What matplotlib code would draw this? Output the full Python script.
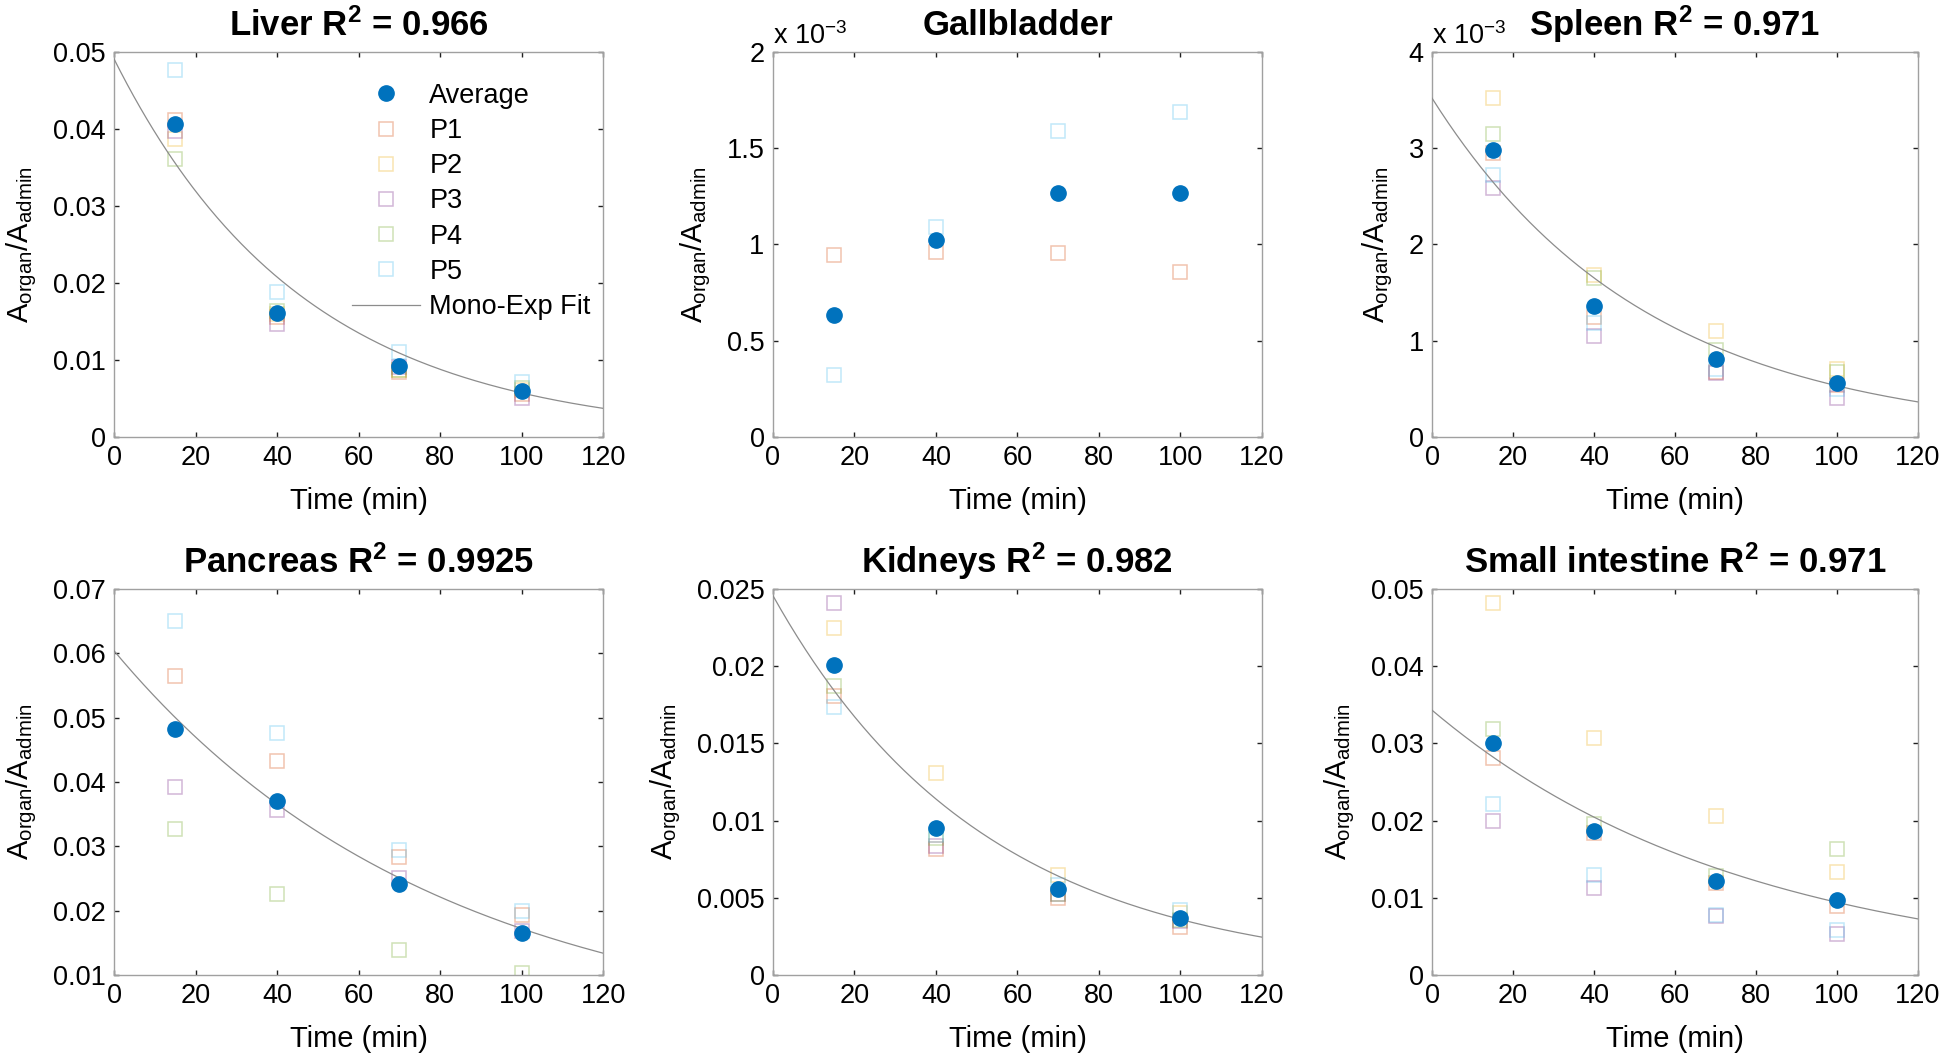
import numpy as np
import matplotlib
matplotlib.use("Agg")
import matplotlib.pyplot as plt
from matplotlib.ticker import MultipleLocator, FuncFormatter

plt.rcParams['font.family'] = ['Liberation Sans', 'DejaVu Sans']
plt.rcParams['mathtext.fontset'] = 'custom'
plt.rcParams['mathtext.rm'] = 'Liberation Sans'
plt.rcParams['mathtext.it'] = 'Liberation Sans:italic'
plt.rcParams['mathtext.bf'] = 'Liberation Sans:bold'
plt.rcParams['mathtext.default'] = 'regular'

# ---------------- data ----------------
time_min = [15, 40, 70, 100]
nan = np.nan

organ_names = ["Liver", "Gallbladder", "Spleen", "Pancreas", "Kidneys", "Small intestine"]
r_squared = ["0.966", None, "0.971", "0.9925", "0.982", "0.971"]
patient_labels = ["P1", "P2", "P3", "P4", "P5"]

liver_avg = [0.0407, 0.0161, 0.0092, 0.0060]
liver_patients = [
    [0.0412, 0.0156, 0.0084, 0.0056],
    [0.0387, 0.0160, 0.0087, 0.0061],
    [0.0398, 0.0147, 0.0091, 0.0050],
    [0.0361, 0.0164, 0.0087, 0.0063],
    [0.0477, 0.0188, 0.0110, 0.0071],
]

gallbladder_avg = [0.636e-3, 1.022e-3, 1.269e-3, 1.269e-3]
gallbladder_patients = [
    [0.947e-3, 0.961e-3, 0.956e-3, 0.857e-3],
    [nan, nan, nan, nan],
    [nan, nan, nan, nan],
    [nan, nan, nan, nan],
    [0.320e-3, 1.091e-3, 1.590e-3, 1.687e-3],
]

spleen_avg = [2.986e-3, 1.361e-3, 0.809e-3, 0.566e-3]
spleen_patients = [
    [2.95e-3, 1.25e-3, 0.68e-3, 0.54e-3],
    [3.52e-3, 1.68e-3, 1.10e-3, 0.71e-3],
    [2.59e-3, 1.05e-3, 0.66e-3, 0.40e-3],
    [3.15e-3, 1.65e-3, 0.90e-3, 0.68e-3],
    [2.72e-3, 1.18e-3, 0.71e-3, 0.50e-3],
]

pancreas_avg = [0.0482, 0.0371, 0.0241, 0.0165]
pancreas_patients = [
    [0.0565, 0.0432, 0.0284, 0.0194],
    [nan, nan, nan, nan],
    [0.0392, 0.0357, 0.0251, 0.0169],
    [0.0327, 0.0226, 0.0139, 0.0103],
    [0.0650, 0.0476, 0.0295, 0.0199],
]

kidneys_avg = [0.0201, 0.00952, 0.00556, 0.00368]
kidneys_patients = [
    [0.01807, 0.00816, 0.00498, 0.00314],
    [0.02245, 0.01310, 0.00649, 0.00400],
    [0.02409, 0.00833, 0.00525, 0.00350],
    [0.01872, 0.00890, 0.00525, 0.00355],
    [0.01736, 0.00909, 0.00584, 0.00422],
]

small_int_avg = [0.0301, 0.0186, 0.0122, 0.0097]
small_int_patients = [
    [0.0281, 0.0184, 0.0119, 0.0089],
    [0.0482, 0.0307, 0.0206, 0.0134],
    [0.0200, 0.0113, 0.0077, 0.0053],
    [0.0319, 0.0195, 0.0128, 0.0163],
    [0.0222, 0.0130, 0.0078, 0.0058],
]

# mono-exponential fit parameters  A * exp(-k t)
fit_A = [0.0491, None, 3.52e-3, 0.0604, 0.02457, 0.0343]
fit_k = [0.0215, None, 0.0189, 0.01255, 0.0192, 0.01293]

y_limits = [(0, 0.05), (0, 2e-3), (0, 4e-3), (0.01, 0.07), (0, 0.025), (0, 0.05)]
y_steps = [0.01, 0.5e-3, 1e-3, 0.01, 0.005, 0.01]
y_scale = [1, 1e-3, 1e-3, 1, 1, 1]

averages = [liver_avg, gallbladder_avg, spleen_avg, pancreas_avg, kidneys_avg, small_int_avg]
patients_all = [liver_patients, gallbladder_patients, spleen_patients,
                pancreas_patients, kidneys_patients, small_int_patients]

# ---------------- style ----------------
avg_color = '#0072BD'
p_colors = [(0.850, 0.325, 0.098), (0.929, 0.694, 0.125), (0.494, 0.184, 0.556),
            (0.466, 0.674, 0.188), (0.301, 0.745, 0.933)]
p_alpha = 0.35
fit_color = '#8c8c8c'
spine_color = '#a0a0a0'
tick_fs = 19.5
label_fs = 21
title_fs = 25

fig = plt.figure(figsize=(19.46, 10.55), dpi=100)

lefts = [0.0586, 0.3972, 0.7359]
widths = [0.2513, 0.2513, 0.2497]
bottoms = [0.5858, 0.0758]
heights = [0.3649, 0.3659]

for idx in range(6):
    r, c = divmod(idx, 3)
    ax = fig.add_axes([lefts[c], bottoms[r], widths[c], heights[r]])
    handles = []
    for j, pdata in enumerate(patients_all[idx]):
        h, = ax.plot(time_min, pdata, 's', mfc='none',
                     mec=p_colors[j] + (p_alpha,), ms=10, mew=1.1,
                     label=patient_labels[j], zorder=2)
        handles.append(h)
    if fit_A[idx] is not None:
        t = np.linspace(0, 120, 300)
        hf, = ax.plot(t, fit_A[idx] * np.exp(-fit_k[idx] * t), '-',
                      color=fit_color, lw=0.9, label='Mono-Exp Fit', zorder=3)
    else:
        hf = None
    ha, = ax.plot(time_min, averages[idx], 'o', color=avg_color, ms=11,
                  label='Average', zorder=4)

    ax.set_xlim(0, 120)
    ax.set_ylim(*y_limits[idx])
    ax.xaxis.set_major_locator(MultipleLocator(20))
    ax.yaxis.set_major_locator(MultipleLocator(y_steps[idx]))
    sc = y_scale[idx]
    ax.yaxis.set_major_formatter(FuncFormatter(lambda v, pos, sc=sc: f"{round(v / sc, 6):g}"))
    ax.tick_params(direction='in', length=3.5, width=1, color='#202020',
                   labelsize=tick_fs, top=True, right=True, pad=6)
    for s in ax.spines.values():
        s.set_color(spine_color)
        s.set_linewidth(1.0)

    ax.set_xlabel('Time (min)', fontsize=label_fs, labelpad=11)
    ax.set_ylabel(r'A$_{organ}$/A$_{admin}$', fontsize=label_fs, labelpad=10)

    if r_squared[idx] is not None:
        title = organ_names[idx] + r' R$^{\mathbf{2}}$ = ' + r_squared[idx]
    else:
        title = organ_names[idx]
    ax.set_title(title, fontsize=title_fs, fontweight='bold', pad=12)

    if sc != 1:
        ax.text(0.0, 1.006, r'x 10$^{-3}$', transform=ax.transAxes,
                fontsize=tick_fs, ha='left', va='bottom')

    if idx == 0:
        leg_handles = [ha] + handles + [hf]
        ax.legend(handles=leg_handles, loc='upper left', bbox_to_anchor=(0.487, 0.92),
                  frameon=False, fontsize=tick_fs, borderpad=0, borderaxespad=0,
                  handlelength=2.5, handletextpad=0.35, labelspacing=0.34, numpoints=1)

fig.savefig('out.png', dpi=100)
